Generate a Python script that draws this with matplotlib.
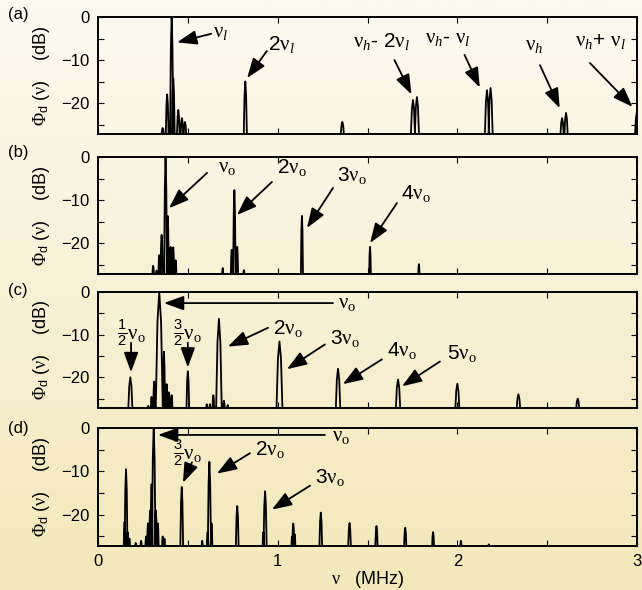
import numpy as np
import matplotlib.pyplot as plt
from matplotlib.ticker import MultipleLocator

plt.rcParams['font.family'] = ['Liberation Sans', 'DejaVu Sans']
plt.rcParams['mathtext.fontset'] = 'custom'
plt.rcParams['mathtext.rm'] = 'Liberation Serif'
plt.rcParams['mathtext.it'] = 'Liberation Serif:italic'
plt.rcParams['mathtext.sf'] = 'Liberation Sans'

# peak positions (MHz), heights (dB) and half widths (MHz) for each panel
a_freq = [0.36, 0.385, 0.41, 0.419, 0.447, 0.467, 0.484, 0.82, 1.36, 1.753, 1.775, 2.165, 2.185, 2.583, 2.605, 3.0]
a_db = [-25.8, -18.0, 0.0, -14.3, -21.6, -23.5, -24.4, -15.0, -24.4, -19.3, -18.6, -17.0, -16.5, -23.5, -22.3, -22.0]
a_hw = [0.008, 0.008, 0.009, 0.008, 0.008, 0.008, 0.008, 0.009, 0.01, 0.012, 0.012, 0.012, 0.012, 0.01, 0.01, 0.012]

b_freq = [0.307, 0.326, 0.341, 0.354, 0.376, 0.388, 0.404, 0.419, 0.432, 0.694, 0.744, 0.759, 0.775, 0.812, 1.135, 1.514, 1.786]
b_db = [-25.3, -26.4, -22.8, -18.1, 0.0, -13.7, -20.9, -21.0, -24.0, -25.8, -21.6, -7.7, -20.9, -26.3, -13.7, -20.9, -24.9]
b_hw = [0.005, 0.005, 0.005, 0.006, 0.008, 0.006, 0.005, 0.005, 0.005, 0.004, 0.005, 0.007, 0.005, 0.004, 0.006, 0.005, 0.004]

c_freq = [0.18, 0.28, 0.298, 0.313, 0.341, 0.367, 0.382, 0.395, 0.41, 0.50, 0.605, 0.623, 0.642, 0.673, 0.701, 0.722,
          1.01, 1.336, 1.67, 2.0, 2.34, 2.67]
c_db = [-20.0, -26.7, -24.6, -21.0, 0.0, -14.0, -21.6, -23.5, -24.2, -18.6, -26.3, -26.3, -24.2, -6.3, -25.5, -26.5,
        -11.6, -18.0, -20.5, -21.5, -24.0, -25.0]
c_hw = [0.012, 0.005, 0.005, 0.006, 0.02, 0.006, 0.005, 0.005, 0.005, 0.008, 0.004, 0.004, 0.005, 0.016, 0.005, 0.004,
        0.017, 0.013, 0.013, 0.012, 0.011, 0.01]

d_freq = [0.148, 0.156, 0.165, 0.175, 0.21, 0.24, 0.268, 0.278, 0.29, 0.298, 0.31, 0.322, 0.333, 0.36, 0.37, 0.466,
          0.58, 0.61, 0.62, 0.632, 0.775, 0.92, 0.93, 1.08, 1.087, 1.095, 1.24, 1.40, 1.55, 1.71, 1.865, 2.02, 2.175]
d_db = [-21.6, -9.5, -24.0, -25.5, -26.5, -26.0, -25.0, -22.0, -19.0, -13.0, 0.0, -19.0, -22.0, -25.0, -25.5, -13.6,
        -26.0, -24.0, -7.8, -22.0, -18.0, -24.0, -14.6, -25.0, -22.0, -24.5, -19.5, -21.9, -22.6, -23.0, -24.0, -26.0, -26.8]
d_hw = [0.005, 0.008, 0.005, 0.004, 0.004, 0.004, 0.005, 0.005, 0.005, 0.006, 0.01, 0.006, 0.005, 0.004, 0.004, 0.008,
        0.004, 0.005, 0.009, 0.005, 0.008, 0.004, 0.009, 0.004, 0.006, 0.004, 0.008, 0.008, 0.007, 0.007, 0.006, 0.004, 0.004]

floor = -28.0


def spectrum(freq, db, hw):
    # each peak drawn as a narrow tent from below the axis floor
    xs, ys = [], []
    for f, h, w in sorted(zip(freq, db, hw)):
        mid = floor + (h - floor) * 0.75
        xs += [f - w, f - w / 2, f, f + w / 2, f + w]
        ys += [floor, mid, h, mid, floor]
    return xs, ys


fig = plt.figure(figsize=(6.42, 5.9), dpi=100)

# cream to tan background gradient
bg = fig.add_axes([0, 0, 1, 1], zorder=-10)
top_col = np.array([252, 250, 241]) / 255
bot_col = np.array([243, 232, 186]) / 255
t = np.linspace(0, 1, 256)[:, None, None]
grad = top_col * (1 - t) + bot_col * t
bg.imshow(grad, aspect='auto', extent=[0, 1, 0, 1])
bg.axis('off')

left = 98 / 642
width = (637 - 98) / 642
tops = [17, 157, 292, 428]
bots = [134, 274, 408, 546]
panels = [(a_freq, a_db, a_hw), (b_freq, b_db, b_hw), (c_freq, c_db, c_hw), (d_freq, d_db, d_hw)]
letters = ['(a)', '(b)', '(c)', '(d)']
letter_y = [15, 153, 290, 428]

NU = r'\mathrm{\nu}'

axes = []
for i in range(4):
    ax = fig.add_axes([left, 1 - bots[i] / 590, width, (bots[i] - tops[i]) / 590])
    ax.set_facecolor('none')
    xs, ys = spectrum(*panels[i])
    ax.plot(xs, ys, color='black', lw=1.3)
    ax.set_xlim(0, 3)
    ax.set_ylim(-27.2, 0)
    ax.xaxis.set_major_locator(MultipleLocator(1))
    ax.xaxis.set_minor_locator(MultipleLocator(0.5))
    ax.yaxis.set_major_locator(MultipleLocator(10))
    ax.yaxis.set_minor_locator(MultipleLocator(5))
    ax.tick_params(which='both', direction='in', top=True, right=True, labelsize=12, width=0.8)
    ax.tick_params(which='major', length=4, pad=6)
    ax.tick_params(which='minor', length=4)
    ax.set_yticks([0, -10, -20])
    ax.set_yticklabels(['0', '\u221210', '\u221220'])
    if i < 3:
        ax.tick_params(labelbottom=False)
    for s in ax.spines.values():
        s.set_linewidth(1.4)
    ax.set_ylabel(r'$\mathrm{\Phi}_{\mathsf{d}}$ ($' + NU + r'$)    (dB)', fontsize=13)
    ax.yaxis.set_label_coords(-0.085, 0.5)
    fig.text(8 / 642, 1 - letter_y[i] / 590, letters[i], fontsize=12, va='center')
    axes.append(ax)

axes[3].set_xlabel(r'$' + NU + r'$   (MHz)', fontsize=13, labelpad=0)

arrow = dict(arrowstyle='-|>,head_length=0.55,head_width=0.2', color='black', lw=1.3,
             mutation_scale=22, shrinkA=0, shrinkB=0)
fs = 15


def note(ax, text, pos, tail, head):
    ax.text(pos[0], pos[1], text, fontsize=fs, ha='left', va='center')
    ax.annotate('', xy=head, xytext=tail, arrowprops=arrow, annotation_clip=False)


def nu(sub, pre=''):
    return pre + r'$' + NU + r'_{' + sub + r'}$'


def frac_nu(n):
    return r'$\frac{\mathsf{' + n + r'}}{\mathsf{2}}' + NU + r'_{\rm o}$'


L = 'l'
O = r'\rm o'

ax = axes[0]
note(ax, nu(L), (0.64, -3.5), (0.63, -3.9), (0.44, -5.9))
note(ax, nu(L, '2'), (0.945, -6.4), (0.94, -7.9), (0.83, -14.2))
note(ax, nu('h') + '- ' + nu(L, '2'), (1.42, -5.8), (1.65, -10.0), (1.745, -18.0))
note(ax, nu('h') + '- ' + nu(L), (1.82, -4.9), (2.04, -8.8), (2.125, -16.4))
note(ax, nu('h'), (2.376, -6.6), (2.46, -11.2), (2.57, -21.2))
note(ax, nu('h') + '+ ' + nu(L), (2.655, -5.8), (2.738, -10.7), (2.975, -20.9))

ax = axes[1]
note(ax, nu(O), (0.668, -2.4), (0.607, -3.7), (0.395, -11.9))
note(ax, nu(O, '2'), (0.996, -2.4), (0.968, -5.8), (0.773, -13.5))
note(ax, nu(O, '3'), (1.33, -4.2), (1.308, -7.2), (1.163, -16.5))
note(ax, nu(O, '4'), (1.686, -8.4), (1.664, -10.7), (1.514, -20.0))

ax = axes[2]
note(ax, frac_nu('1'), (0.106, -9.5), (0.184, -11.9), (0.184, -18.8))
note(ax, frac_nu('3'), (0.417, -9.5), (0.50, -11.9), (0.50, -17.7))
note(ax, nu(O), (1.336, -2.6), (1.308, -2.6), (0.367, -2.6))
note(ax, nu(O, '2'), (0.974, -8.6), (0.946, -8.4), (0.723, -12.8))
note(ax, nu(O, '3'), (1.291, -11.0), (1.263, -12.3), (1.052, -18.1))
note(ax, nu(O, '4'), (1.608, -13.8), (1.58, -15.8), (1.363, -21.6))
note(ax, nu(O, '5'), (1.942, -14.5), (1.903, -16.3), (1.692, -22.1))

ax = axes[3]
note(ax, nu(O), (1.302, -1.9), (1.263, -1.6), (0.334, -1.6))
note(ax, frac_nu('3'), (0.417, -5.6), (0.523, -7.9), (0.473, -12.6))
note(ax, nu(O, '2'), (0.874, -4.9), (0.846, -5.8), (0.662, -10.5))
note(ax, nu(O, '3'), (1.208, -11.4), (1.18, -13.3), (0.968, -18.8))

fig.savefig('out.png', dpi=100)
